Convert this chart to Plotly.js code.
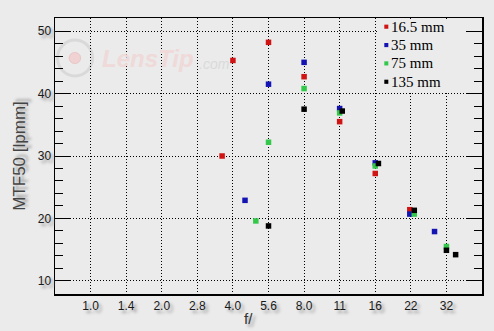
<!DOCTYPE html>
<html>
<head>
<meta charset="utf-8">
<script src="https://cdn.plot.ly/plotly-3.0.1.min.js"></script>
<style>
  html, body { margin: 0; padding: 0; background: #ebebeb; }
  #chart { width: 494px; height: 331px; }
</style>
</head>
<body>
<div id="chart"></div>
<script>
// Tick positions (true aperture values, one stop apart) and labels
const tickValues = [1, 1.414, 2, 2.828, 4, 5.657, 8, 11.31, 16, 22.63, 32];
const tickLabels = ["1.0", "1.4", "2.0", "2.8", "4.0", "5.6", "8.0", "11", "16", "22", "32"];

// Series names and colours
const seriesNames = ["16.5 mm", "35 mm", "75 mm", "135 mm"];
const seriesColors = ["#d01414", "#1414b4", "#33c84a", "#000000"];

// Aperture (f-number) and MTF50 values [lpmm]
const fRed   = [3.6, 4.0, 5.657, 8, 11.31, 16, 22.4];
const mtfRed = [30.0, 45.3, 48.2, 42.7, 35.5, 27.2, 21.4];

const fBlue   = [4.5, 5.657, 8, 11.31, 16, 22.4, 28.5];
const mtfBlue = [22.9, 41.5, 45.0, 37.6, 28.9, 20.7, 17.9];

const fGreen   = [5.0, 5.657, 8, 11.31, 16, 23.4, 32];
const mtfGreen = [19.6, 32.2, 40.8, 36.9, 28.4, 20.7, 15.5];

const fBlack   = [5.657, 8, 11.6, 16.5, 23.4, 32, 35];
const mtfBlack = [18.8, 37.5, 37.2, 28.8, 21.3, 14.9, 14.2];

const xs = [fRed, fBlue, fGreen, fBlack];
const ys = [mtfRed, mtfBlue, mtfGreen, mtfBlack];

const traces = seriesNames.map((name, i) => ({
  type: "scatter",
  mode: "markers",
  name: name,
  x: xs[i],
  y: ys[i],
  marker: { symbol: "square", size: 5.5, color: seriesColors[i], line: { width: 0 } },
  showlegend: false,
  hoverinfo: "x+y+name"
}));

const shadow = "3px 3px 3px #9a9a9a";
const tickFont = { family: "Liberation Sans, Arial, sans-serif", size: 12, color: "#1a1a1a", shadow: shadow };

// Legend drawn as text annotations plus small colour squares
const legendTop = 0.9685, legendStep = 0.0665;
const annotations = [];
const shapes = [
  // watermark logo ring
  { type: "circle", xref: "paper", yref: "paper", x0: 0.006, x1: 0.088, y0: 0.79, y1: 0.92,
    line: { color: "#d9d9d9", width: 3 }, layer: "below" },
  { type: "circle", xref: "paper", yref: "paper", x0: 0.033, x1: 0.060, y0: 0.835, y1: 0.875,
    fillcolor: "#f0d2d2", line: { color: "#e9c7c7", width: 1 }, layer: "below" },
  // cover grid behind the legend (left of the right-hand ticks)
  { type: "rect", xref: "paper", yref: "paper", x0: 0.7564, x1: 0.962, y0: 0.735, y1: 0.996,
    fillcolor: "#ebebeb", line: { width: 0 }, layer: "above" }
];
seriesNames.forEach((name, i) => {
  const yc = legendTop - i * legendStep;
  annotations.push({
    xref: "paper", yref: "paper", x: 0.782, y: yc, xanchor: "left", yanchor: "middle",
    text: name, showarrow: false,
    font: { family: "Liberation Serif, Times New Roman, serif", size: 15, color: "#000" }
  });
  shapes.push({
    type: "rect", xref: "paper", yref: "paper", layer: "above",
    x0: 0.7712, x1: 0.7806, y0: yc - 0.0075, y1: yc + 0.0075,
    fillcolor: seriesColors[i], line: { width: 0 }
  });
});

// Watermark
annotations.push({
  xref: "paper", yref: "paper", x: 0.106, y: 0.855, xanchor: "left", yanchor: "middle",
  text: "<b><i>LensTip</i></b>", showarrow: false,
  font: { family: "Liberation Sans, Arial, sans-serif", size: 24, color: "#efd9d9" }
});
annotations.push({
  xref: "paper", yref: "paper", x: 0.332, y: 0.835, xanchor: "left", yanchor: "middle",
  text: "<i>.com</i>", showarrow: false,
  font: { family: "Liberation Sans, Arial, sans-serif", size: 14, color: "#dadada" }
});

// X axis title
annotations.push({
  xref: "paper", yref: "paper", x: 0.454, y: -0.09, xanchor: "center", yanchor: "middle",
  text: "f/", showarrow: false,
  font: { family: "Liberation Sans, Arial, sans-serif", size: 15, color: "#333", shadow: shadow }
});

const layout = {
  width: 494, height: 331,
  margin: { l: 55, r: 12, t: 18, b: 37 },
  paper_bgcolor: "#ebebeb",
  plot_bgcolor: "#ebebeb",
  showlegend: false,
  xaxis: {
    type: "log",
    range: [Math.log10(0.7071), Math.log10(45.25)],
    tickmode: "array",
    tickvals: tickValues,
    ticktext: tickLabels,
    ticks: "",
    showline: true, linecolor: "#000", linewidth: 1.5, mirror: true,
    showgrid: true, gridcolor: "#000", gridwidth: 1, griddash: "1px,2px",
    zeroline: false,
    tickfont: tickFont,
    ticklabelstandoff: 0
  },
  yaxis: {
    range: [7.9, 52.1],
    tick0: 0, dtick: 10,
    ticks: "inside", ticklen: 15, tickwidth: 1, tickcolor: "#000",
    minor: { dtick: 2, ticks: "inside", ticklen: 8, tickwidth: 1, tickcolor: "#000", showgrid: false },
    showline: true, linecolor: "#000", linewidth: 1.5, mirror: "ticks",
    showgrid: true, gridcolor: "#000", gridwidth: 1, griddash: "1px,2px",
    zeroline: false,
    tickfont: tickFont,
    title: { text: "MTF50 [lpmm]", standoff: 8,
      font: { family: "Liberation Sans, Arial, sans-serif", size: 17, color: "#444", shadow: shadow } }
  },
  annotations: annotations,
  shapes: shapes
};

Plotly.newPlot("chart", traces, layout, { displayModeBar: false, staticPlot: true });
</script>
</body>
</html>
